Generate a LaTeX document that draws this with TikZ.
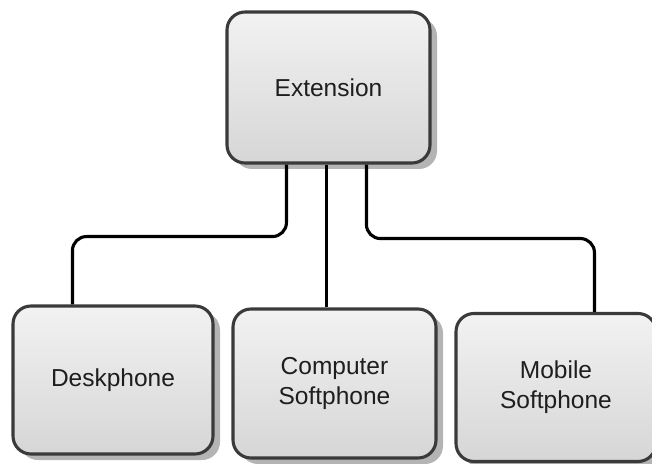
\documentclass[tikz,border=0pt]{standalone}
\usepackage{fontspec}
\setmainfont{Liberation Sans}
\usetikzlibrary{shadows,calc}
\definecolor{boxborder}{HTML}{3A3A3A}
\definecolor{boxtop}{HTML}{F2F2F2}
\definecolor{boxbot}{HTML}{D6D6D6}
\definecolor{shadowgray}{HTML}{B4B4B4}
\definecolor{txt}{HTML}{1E1E1E}
\tikzset{
  box/.style={draw=boxborder, line width=3.1pt, rounded corners=18pt,
    top color=boxtop, bottom color=boxbot, shading angle=0,
    minimum width=200pt, minimum height=148pt, inner sep=0pt,
    align=center, text=txt, font=\fontsize{24.5}{30}\selectfont,
    drop shadow={shadow xshift=7pt, shadow yshift=-6pt, fill=shadowgray, opacity=1}},
  conn/.style={draw=black, line width=3.1pt, rounded corners=14pt}
}
\begin{document}
\begin{tikzpicture}[x=1pt,y=1pt]
\useasboundingbox (0,0) rectangle (652,463);
\node[box, minimum width=203pt, minimum height=151pt] (ext) at (328.5,375.5) {Extension};
\node[box] (dsk) at (113,83) {Deskphone};
\node[box, minimum width=203pt, minimum height=149pt] (cmp) at (334.5,79.5) {Computer\\Softphone};
\node[box] (mob) at (556,75.5) {Mobile\\Softphone};
\coordinate (e1) at ($(ext.south west)+(61,0)$);
\coordinate (e2) at ($(ext.south west)+(101,0)$);
\coordinate (e3) at ($(ext.south west)+(141,0)$);
\coordinate (d1) at ($(dsk.north west)+(61,0)$);
\coordinate (c1) at ($(cmp.north west)+(95,0)$);
\coordinate (m1) at ($(mob.north west)+(140,0)$);
\draw[conn] (e1) -- ++(0,-72) -| (d1);
\draw[conn] (e2) -- (e2 |- c1);
\draw[conn] (e3) -- ++(0,-74) -| (m1);
\end{tikzpicture}
\end{document}
